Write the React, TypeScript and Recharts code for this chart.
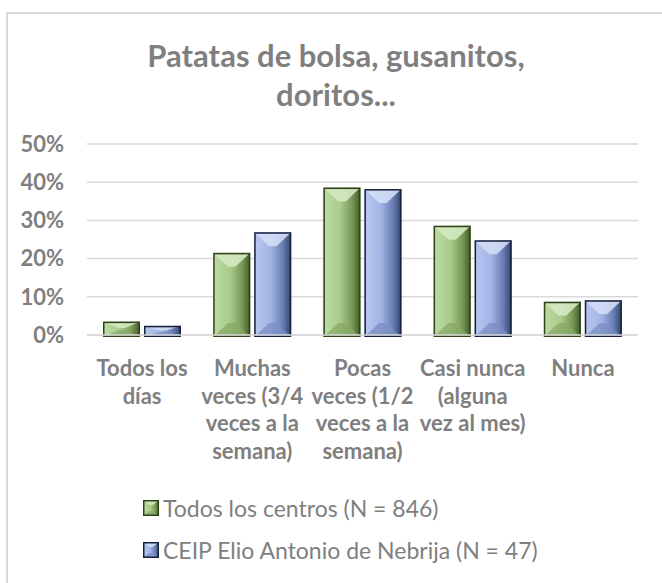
import { Bar, BarChart, CartesianGrid, Legend, XAxis, YAxis } from "recharts";

const categories = [
  "Todos los\ndías",
  "Muchas\nveces (3/4\nveces a la\nsemana)",
  "Pocas\nveces (1/2\nveces a la\nsemana)",
  "Casi nunca\n(alguna\nvez al mes)",
  "Nunca",
];
const todosLosCentros = [3.5, 21.5, 38.6, 28.6, 8.7];
const ceipNebrija = [2.4, 26.9, 38.2, 24.8, 9.1];
const yTicks = [0, 10, 20, 30, 40, 50];
const seriesNames = ["Todos los centros (N = 846)", "CEIP Elio Antonio de Nebrija (N = 47)"];
const titleLines = ["Patatas de bolsa, gusanitos,", "doritos..."];

const data = categories.map((c, i) => ({
  cat: c,
  todos: todosLosCentros[i],
  ceip: ceipNebrija[i],
}));

const TEXT = "#7f7f7f";
const GRID = "#d9d9d9";
const FONT = "Lato, 'Open Sans', sans-serif";

type Pal = { id: string; top: string; bottom: string; edge: string; stops: string[] };
const GREEN: Pal = {
  id: "g",
  top: "#d4e9c2",
  bottom: "#88a868",
  edge: "#2f4219",
  stops: ["#bddca3", "#a9cb8c", "#789856", "#405b26"],
};
const BLUE: Pal = {
  id: "b",
  top: "#d3ddf6",
  bottom: "#7b8fc4",
  edge: "#16213b",
  stops: ["#b8c8f0", "#a1b4e4", "#687cb2", "#31436b"],
};

function Gradient({ pal }: { pal: Pal }) {
  return (
    <linearGradient id={`face-${pal.id}`} x1="0" y1="0" x2="1" y2="0">
      <stop offset="0%" stopColor={pal.stops[0]} />
      <stop offset="45%" stopColor={pal.stops[1]} />
      <stop offset="78%" stopColor={pal.stops[2]} />
      <stop offset="100%" stopColor={pal.stops[3]} />
    </linearGradient>
  );
}

// bevelled box like Excel's "angle" bar effect
function bevel(x: number, y: number, w: number, h: number, pal: Pal, maxT = 14) {
  if (!(w > 0) || !(h > 0)) return null;
  const t = Math.min(maxT, h * 0.42);
  const s = w * 0.4;
  return (
    <g>
      <rect x={x} y={y} width={w} height={h} fill={`url(#face-${pal.id})`} />
      <polygon
        points={`${x},${y} ${x + w},${y} ${x + w - s},${y + t} ${x + s},${y + t}`}
        fill={pal.top}
        opacity={0.9}
      />
      <polygon
        points={`${x},${y + h} ${x + w},${y + h} ${x + w - s},${y + h - t} ${x + s},${y + h - t}`}
        fill={pal.bottom}
        opacity={0.75}
      />
      <rect x={x + 0.75} y={y + 0.75} width={w - 1.5} height={h - 1.5} fill="none" stroke={pal.edge} strokeWidth={1.5} />
    </g>
  );
}

function GreenBar(props: any) {
  return bevel(props.x, props.y, props.width, props.height + 2, GREEN);
}
function BlueBar(props: any) {
  return bevel(props.x, props.y, props.width, props.height + 2, BLUE);
}

function CatTick({ x, y, payload }: any) {
  const lines = String(payload.value).split("\n");
  return (
    <text x={x} y={y} textAnchor="middle" fill={TEXT} fontFamily={FONT} fontWeight={700} fontSize={22}>
      {lines.map((l, i) => (
        <tspan key={i} x={x} dy={i === 0 ? 33 : 27.5}>
          {l}
        </tspan>
      ))}
    </text>
  );
}

function LegendBox() {
  const pals = [GREEN, BLUE];
  return (
    <div style={{ fontFamily: FONT, fontSize: 23, color: TEXT }}>
      {seriesNames.map((n, i) => (
        <div key={n} style={{ display: "flex", alignItems: "center", height: 42, whiteSpace: "nowrap" }}>
          <svg width={18} height={18} style={{ marginRight: 3 }}>
            {bevel(1, 1, 16, 16, pals[i], 5)}
          </svg>
          {n}
        </div>
      ))}
    </div>
  );
}

export default function App() {
  return (
    <div style={{ position: "absolute", left: 0, top: 0, width: 662, height: 583, overflow: "hidden", background: "#fff" }}>
      <div
        style={{
          position: "absolute",
          left: 6,
          top: 12,
          width: 700,
          height: 700,
          border: `2px solid ${GRID}`,
          boxSizing: "border-box",
        }}
      />
      <div
        style={{
          position: "absolute",
          left: 10,
          top: 36,
          width: 652,
          textAlign: "center",
          fontFamily: FONT,
          fontWeight: 700,
          fontSize: 31,
          lineHeight: "39px",
          color: TEXT,
        }}
      >
        {titleLines.map((l) => (
          <div key={l}>{l}</div>
        ))}
      </div>
      <div style={{ position: "absolute", left: 0, top: 0 }}>
        <BarChart width={662} height={583} data={data} margin={{ top: 144, right: 24, bottom: 0, left: 0 }} barSize={37} barGap={4}>
          <defs>
            <Gradient pal={GREEN} />
            <Gradient pal={BLUE} />
          </defs>
          <CartesianGrid vertical={false} stroke={GRID} strokeWidth={1.5} />
          <XAxis
            dataKey="cat"
            height={248}
            axisLine={{ stroke: GRID, strokeWidth: 1.5 }}
            tickLine={false}
            interval={0}
            tick={<CatTick />}
          />
          <YAxis
            width={87}
            domain={[0, 50]}
            ticks={yTicks}
            tickFormatter={(v) => `${v}%`}
            axisLine={false}
            tickLine={false}
            tickMargin={17}
            tick={{ fill: TEXT, fontFamily: FONT, fontWeight: 700, fontSize: 22 }}
          />
          <Legend
            layout="vertical"
            align="center"
            verticalAlign="middle"
            wrapperStyle={{ left: 142, top: 487, width: "auto" }}
            content={<LegendBox />}
          />
          <Bar dataKey="todos" name={seriesNames[0]} shape={<GreenBar />} isAnimationActive={false} />
          <Bar dataKey="ceip" name={seriesNames[1]} shape={<BlueBar />} isAnimationActive={false} />
        </BarChart>
      </div>
    </div>
  );
}
